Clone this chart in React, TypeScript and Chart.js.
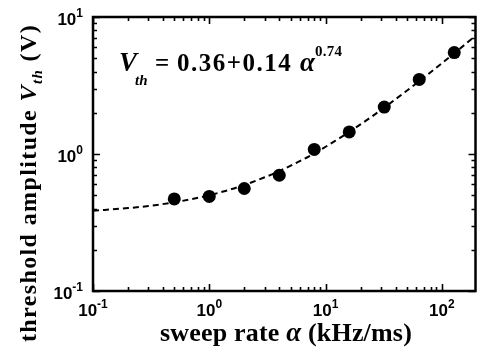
import React, { useEffect, useRef } from "react";
import { Chart, registerables } from "chart.js";

Chart.register(...registerables);

// Measured data points
const SWEEP_RATE = [0.5, 1, 2, 4, 8, 16, 32, 64, 128];
const V_TH = [0.47, 0.49, 0.56, 0.7, 1.08, 1.45, 2.2, 3.5, 5.5];

// Fit curve (dashed line)
const FIT_RATE = [0.1, 0.2, 0.3, 0.5, 0.7, 1, 1.5, 2, 3, 4, 6, 8, 12, 16, 24, 32, 48, 64, 96, 128, 160, 195];
const FIT_V = [0.385, 0.403, 0.417, 0.444, 0.468, 0.5, 0.549, 0.594, 0.676, 0.75, 0.887, 1.01, 1.24, 1.45, 1.83, 2.18, 2.82, 3.4, 4.46, 5.44, 6.35, 7.3];

// Axis ticks
const X_MIN = 0.1;
const X_MAX = 195;
const Y_MIN = 0.1;
const Y_MAX = 10;
const X_MAJOR = [0.1, 1, 10, 100];
const X_EXP = ["-1", "0", "1", "2"];
const Y_MAJOR = [0.1, 1, 10];
const Y_EXP = ["-1", "0", "1"];

const SANS = '"Liberation Sans", Arial, sans-serif';
const SERIF = '"Liberation Serif", "Times New Roman", serif';

type Piece = { t: string; f: string; dy?: number; sp?: number };

function pieceW(ctx: CanvasRenderingContext2D, p: Piece) {
  ctx.font = p.f;
  (ctx as any).letterSpacing = "0px";
  return ctx.measureText(p.t).width + (p.sp || 0) * p.t.length;
}
function piecesWidth(ctx: CanvasRenderingContext2D, pieces: Piece[]) {
  let w = 0;
  for (const p of pieces) w += pieceW(ctx, p);
  return w;
}
function drawPieces(ctx: CanvasRenderingContext2D, pieces: Piece[], x: number, y: number) {
  let cx = x;
  for (const p of pieces) {
    const w = pieceW(ctx, p);
    ctx.font = p.f;
    (ctx as any).letterSpacing = (p.sp || 0) + "px";
    ctx.fillText(p.t, cx, y + (p.dy || 0));
    (ctx as any).letterSpacing = "0px";
    cx += w;
  }
  return cx;
}
function fitPieces(ctx: CanvasRenderingContext2D, pieces: Piece[], target: number) {
  const rawW = piecesWidth(ctx, pieces);
  const n = pieces.reduce((s, p) => s + p.t.length, 0);
  const sp = Math.max(0, (target - rawW) / n);
  return pieces.map((p) => ({ ...p, sp }));
}

const framePlugin = {
  id: "framePlugin",
  afterDraw(chart: any) {
    const ctx: CanvasRenderingContext2D = chart.ctx;
    const { left, right, top, bottom } = chart.chartArea;
    const xs = chart.scales.x;
    const ys = chart.scales.y;
    ctx.save();
    ctx.strokeStyle = "#000";
    ctx.fillStyle = "#000";

    // ticks
    ctx.lineWidth = 1.6;
    ctx.beginPath();
    for (let d = -2; d <= 3; d++) {
      for (let m = 1; m <= 9; m++) {
        const v = m * Math.pow(10, d);
        if (v >= X_MIN * 0.999 && v <= X_MAX) {
          const px = Math.round(xs.getPixelForValue(v)) + 0.5;
          const len = m === 1 ? 7 : 4;
          ctx.moveTo(px, bottom);
          ctx.lineTo(px, bottom - len);
          ctx.moveTo(px, top);
          ctx.lineTo(px, top + len);
        }
        if (v >= Y_MIN * 0.999 && v <= Y_MAX * 1.001) {
          const py = Math.round(ys.getPixelForValue(v)) + 0.5;
          const len = m === 1 ? 7 : 4;
          ctx.moveTo(left, py);
          ctx.lineTo(left + len, py);
          ctx.moveTo(right, py);
          ctx.lineTo(right - len, py);
        }
      }
    }
    ctx.stroke();

    // frame
    ctx.lineWidth = 2.5;
    ctx.strokeRect(left, top, right - left, bottom - top);

    // tick labels
    const base = "bold 17px " + SANS;
    const sup = "bold 12px " + SANS;
    ctx.textBaseline = "alphabetic";
    ctx.textAlign = "left";
    X_MAJOR.forEach((v, i) => {
      const px = xs.getPixelForValue(v);
      const pieces: Piece[] = [
        { t: "10", f: base },
        { t: X_EXP[i], f: sup, dy: -8 },
      ];
      const w = piecesWidth(ctx, pieces);
      drawPieces(ctx, pieces, px - w / 2, 316);
    });
    Y_MAJOR.forEach((v, i) => {
      const py = ys.getPixelForValue(v);
      const pieces: Piece[] = [
        { t: "10", f: base },
        { t: Y_EXP[i], f: sup, dy: -8 },
      ];
      const w = piecesWidth(ctx, pieces);
      drawPieces(ctx, pieces, 83 - w, py + 8);
    });

    // x title
    const xt = fitPieces(ctx, [
      { t: "sweep rate ", f: "bold 26px " + SERIF },
      { t: "α", f: "italic bold 27px " + SERIF },
      { t: " (kHz/ms)", f: "bold 26px " + SERIF },
    ], 252);
    const xw = piecesWidth(ctx, xt);
    drawPieces(ctx, xt, 286 - xw / 2, 341);

    // y title
    ctx.save();
    ctx.translate(36, 183);
    ctx.rotate(-Math.PI / 2);
    const yt = fitPieces(ctx, [
      { t: "threshold amplitude ", f: "bold 24px " + SERIF },
      { t: "V", f: "italic bold 24px " + SERIF },
      { t: "th", f: "italic bold 15px " + SERIF, dy: 6 },
      { t: " (V)", f: "bold 24px " + SERIF },
    ], 318);
    const yw = piecesWidth(ctx, yt);
    drawPieces(ctx, yt, -yw / 2, 0);
    ctx.restore();

    // equation
    ctx.font = "italic bold 27px " + SERIF;
    ctx.fillText("V", 119, 71);
    ctx.font = "italic bold 15px " + SERIF;
    ctx.fillText("th", 135, 85);
    drawPieces(ctx, [{ t: "=", f: "bold 25px " + SERIF }], 155, 71);
    const endN = drawPieces(ctx, [{ t: "0.36+0.14", f: "bold 25px " + SERIF, sp: 1.5 }], 177, 71);
    const tail: Piece[] = [
      { t: "α", f: "italic bold 27px " + SERIF },
      { t: "0.74", f: "bold 15px " + SERIF, dy: -15, sp: 0.3 },
    ];
    drawPieces(ctx, tail, Math.max(endN + 4, 300), 71);

    ctx.restore();
  },
};

export default function App() {
  const ref = useRef<HTMLCanvasElement>(null);
  useEffect(() => {
    if (!ref.current) return;
    const chart = new Chart(ref.current, {
      type: "scatter",
      data: {
        datasets: [
          {
            label: "fit",
            data: FIT_RATE.map((x, i) => ({ x, y: FIT_V[i] })),
            showLine: true,
            borderColor: "#000",
            borderWidth: 2,
            borderDash: [6, 4],
            pointRadius: 0,
            cubicInterpolationMode: "monotone",
            fill: false,
          },
          {
            label: "data",
            data: SWEEP_RATE.map((x, i) => ({ x, y: V_TH[i] })),
            showLine: false,
            pointRadius: 6.5,
            pointBackgroundColor: "#000",
            pointBorderColor: "#000",
            pointBorderWidth: 0,
          },
        ],
      },
      options: {
        animation: false,
        responsive: false,
        devicePixelRatio: 1,
        layout: { padding: { left: 93, right: 0, top: 17, bottom: 63 } },
        plugins: { legend: { display: false }, tooltip: { enabled: false } },
        scales: {
          x: { type: "logarithmic", min: X_MIN, max: X_MAX, display: false },
          y: { type: "logarithmic", min: Y_MIN, max: Y_MAX, display: false },
        },
      },
      plugins: [framePlugin],
    });
    return () => chart.destroy();
  }, []);
  return (
    <div style={{ position: "fixed", left: 0, top: 0, width: 482, height: 354, background: "#fff" }}>
      <canvas ref={ref} width={482} height={354} style={{ width: 482, height: 354 }} />
    </div>
  );
}
